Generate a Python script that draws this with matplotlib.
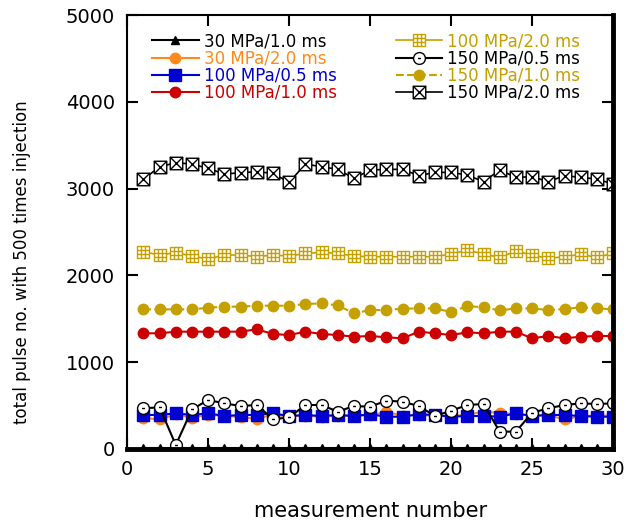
import numpy as np
import matplotlib
matplotlib.use('Agg')
import matplotlib.pyplot as plt
from matplotlib.path import Path

plt.rcParams['font.family'] = ['DejaVu Sans']

# measurement index
x = np.arange(1, 31)

# pulse counts
p30_10 = [8] * 30
p30_20 = [360, 340, 400, 360, 395, 380, 370, 345, 395, 375, 385, 370, 385, 380, 390, 425, 385, 395, 380, 380, 395, 430, 415, 400, 385, 390, 340, 380, 385, 385]
p100_05 = [392, 392, 411, 392, 411, 380, 392, 392, 411, 380, 392, 380, 392, 380, 400, 372, 372, 400, 392, 372, 380, 380, 372, 411, 380, 392, 392, 380, 372, 372]
p100_10 = [1333, 1333, 1352, 1352, 1352, 1352, 1352, 1379, 1325, 1313, 1352, 1325, 1313, 1294, 1302, 1287, 1275, 1352, 1333, 1313, 1344, 1333, 1352, 1352, 1275, 1302, 1275, 1294, 1302, 1302]
p100_20 = [2273, 2235, 2262, 2223, 2189, 2235, 2235, 2216, 2235, 2223, 2254, 2266, 2254, 2223, 2216, 2216, 2216, 2216, 2216, 2246, 2292, 2246, 2208, 2281, 2235, 2196, 2216, 2243, 2208, 2254]
p150_05 = [469, 480, 46, 457, 564, 526, 495, 507, 342, 365, 507, 507, 430, 495, 487, 557, 545, 495, 380, 441, 507, 518, 200, 200, 418, 469, 507, 526, 518, 526]
p150_10 = [1609, 1609, 1609, 1609, 1628, 1640, 1640, 1651, 1651, 1651, 1670, 1678, 1655, 1563, 1601, 1601, 1617, 1620, 1620, 1578, 1647, 1632, 1597, 1620, 1620, 1601, 1613, 1632, 1620, 1609]
p150_20 = [3107, 3252, 3298, 3283, 3233, 3168, 3183, 3195, 3176, 3072, 3283, 3252, 3222, 3118, 3214, 3222, 3222, 3149, 3187, 3187, 3156, 3080, 3214, 3130, 3137, 3080, 3149, 3130, 3110, 3053]

labels = ['30 MPa/1.0 ms', '30 MPa/2.0 ms', '100 MPa/0.5 ms', '100 MPa/1.0 ms',
          '100 MPa/2.0 ms', '150 MPa/0.5 ms', '150 MPa/1.0 ms', '150 MPa/2.0 ms']

gold = '#c4a000'

# custom markers: square with grid, circle with dot, square with X
sq = [(-1, -1), (1, -1), (1, 1), (-1, 1), (-1, -1)]
grid_v = sq + [(-0.33, -1), (-0.33, 1), (0.33, -1), (0.33, 1), (-1, -0.33), (1, -0.33), (-1, 0.33), (1, 0.33)]
grid_c = [Path.MOVETO, Path.LINETO, Path.LINETO, Path.LINETO, Path.CLOSEPOLY] + [Path.MOVETO, Path.LINETO] * 4
m_grid = Path(grid_v, grid_c)

xbox_v = sq + [(-1, -1), (1, 1), (-1, 1), (1, -1)]
xbox_c = [Path.MOVETO, Path.LINETO, Path.LINETO, Path.LINETO, Path.CLOSEPOLY] + [Path.MOVETO, Path.LINETO] * 2
m_xbox = Path(xbox_v, xbox_c)

circ = Path.unit_circle()
m_cdot = Path(np.vstack([circ.vertices, [(-0.25, 0), (0.25, 0)]]),
              np.concatenate([circ.codes, [Path.MOVETO, Path.LINETO]]))

fig = plt.figure(figsize=(6.36, 5.26), dpi=100)
ax = fig.add_axes([0.2, 0.1464, 0.764, 0.825])

ax.plot(x, p30_10, '-', color='black', lw=1.5, marker='^', ms=6, label=labels[0])
ax.plot(x, p30_20, '-', color='#ff8a1a', lw=1.5, marker='o', ms=7.5, label=labels[1])
ax.plot(x, p100_05, '-', color='#0000d0', lw=1.5, marker='s', ms=8, label=labels[2])
ax.plot(x, p100_10, '-', color='#cc0000', lw=1.5, marker='o', ms=7.5, label=labels[3])
ax.plot(x, p100_20, '-', color=gold, lw=1.2, marker=m_grid, ms=8, mfc='white', mec=gold, mew=1.0, label=labels[4])
ax.plot(x, p150_05, '-', color='black', lw=1.5, marker=m_cdot, ms=8.5, mfc='white', mec='black', mew=1.0, label=labels[5])
ax.plot(x, p150_10, '--', color=gold, lw=1.5, marker='o', ms=7.5, label=labels[6])
ax.plot(x, p150_20, '-', color='black', lw=1.2, marker=m_xbox, ms=9, mfc='white', mec='black', mew=1.0, label=labels[7])

ax.set_xlim(0, 30)
ax.set_ylim(0, 5000)
ax.set_xticks(range(0, 31, 5))
ax.set_yticks(range(0, 5001, 1000))
ax.tick_params(direction='in', length=8, width=1.5, labelsize=14, top=True, right=True)
ax.tick_params(axis='y', pad=9)
ax.tick_params(axis='x', pad=8)

ax.spines['left'].set_linewidth(1.5)
ax.spines['top'].set_linewidth(1.5)
ax.spines['right'].set_linewidth(3.5)
ax.spines['bottom'].set_linewidth(3.5)

ax.set_xlabel('measurement number', fontsize=15)
ax.set_ylabel('total pulse no. with 500 times injection', fontsize=12)
ax.xaxis.set_label_coords(0.5, -0.12)
ax.yaxis.set_label_coords(-0.197, 0.431)

ax.legend(ncol=2, loc='upper left', bbox_to_anchor=(0.02, 0.995), frameon=False, fontsize=12,
          labelcolor='linecolor', handlelength=2.8, handletextpad=0.3, columnspacing=3.55,
          labelspacing=-0.05)

plt.savefig('out.png', dpi=100)
